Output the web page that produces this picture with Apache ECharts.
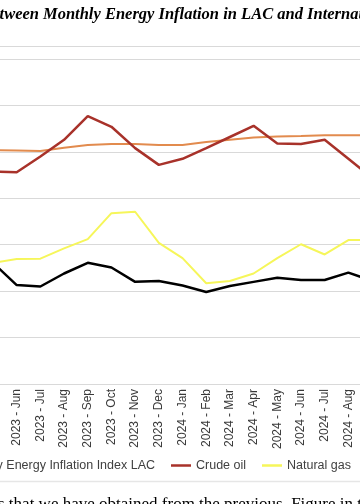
<!DOCTYPE html>
<html>
<head>
<meta charset="utf-8">
<script src="https://cdn.jsdelivr.net/npm/echarts@6/dist/echarts.min.js"></script>
<style>
html,body{margin:0;padding:0;background:#fff;}
#chart{width:360px;height:504px;}
</style>
</head>
<body>
<div id="chart"></div>
<script>
// Categories (the visible window is Jun 2023 – Aug 2024; May and Sep lie just outside the crop)
const categories = ['2023 - May','2023 - Jun','2023 - Jul','2023 - Aug','2023 - Sep','2023 - Oct','2023 - Nov','2023 - Dec',
  '2024 - Jan','2024 - Feb','2024 - Mar','2024 - Apr','2024 - May','2024 - Jun','2024 - Jul','2024 - Aug','2024 - Sep'];

const energyLAC = [26.1,21.3,21.0,23.8,26.1,25.1,22.0,22.2,21.2,19.8,21.1,22.0,22.9,22.4,22.4,24.0,22.2];
const crudeOil  = [45.8,45.6,49.0,52.6,57.7,55.4,50.8,47.2,48.5,50.8,53.2,55.6,51.8,51.7,52.6,48.5,44.4];
const naturalGas= [26.1,26.9,27.0,29.2,31.2,36.8,37.1,30.4,27.1,21.7,22.2,23.8,27.1,30.1,27.9,31.0,31.0];
const trendLine = [50.4,50.3,50.2,50.9,51.5,51.7,51.7,51.5,51.5,52.1,52.6,53.1,53.3,53.4,53.6,53.6,53.6];

const yMin = 0, yMax = 70, yInterval = 10;

const chart = echarts.init(document.getElementById('chart'), null, {renderer:'canvas'});
const grid = '#D9D9D9';
const legendText = {fontFamily:'Liberation Sans', fontSize:12.5, color:'#404040'};
const lg = {top:459, padding:0, icon:'rect', itemWidth:20, itemHeight:2.5, textStyle:legendText};

chart.setOption({
  animation:false,
  backgroundColor:'#fff',
  grid:{left:-7, right:-12.05, top:59, bottom:120, containLabel:false, outerBoundsMode:'none'},
  xAxis:{
    type:'category', data:categories, boundaryGap:false,
    axisLine:{lineStyle:{color:grid, width:1}},
    axisTick:{show:false},
    axisLabel:{rotate:90, margin:5, interval:0, fontFamily:'Liberation Sans', fontSize:12, color:'#3a3a3a'},
    splitLine:{show:false}
  },
  yAxis:{
    type:'value', min:yMin, max:yMax, interval:yInterval,
    axisLine:{show:false}, axisTick:{show:false}, axisLabel:{show:false},
    splitLine:{lineStyle:{color:grid, width:1}}
  },
  legend:[
    Object.assign({data:['Monthly Energy Inflation Index LAC'], right:205}, lg),
    Object.assign({data:['Crude oil'], left:171}, lg),
    Object.assign({data:['Natural gas'], left:262}, lg),
    Object.assign({data:['Trend'], left:372}, lg)
  ],
  series:[
    {name:'Trend', type:'line', data:trendLine, symbol:'none', lineStyle:{color:'#E28B4E', width:2}, itemStyle:{color:'#E28B4E'}},
    {name:'Natural gas', type:'line', data:naturalGas, symbol:'none', lineStyle:{color:'#F6F65A', width:2}, itemStyle:{color:'#F6F65A'}},
    {name:'Crude oil', type:'line', data:crudeOil, symbol:'none', lineStyle:{color:'#A8322A', width:2.5}, itemStyle:{color:'#A8322A'}},
    {name:'Monthly Energy Inflation Index LAC', type:'line', data:energyLAC, symbol:'none', lineStyle:{color:'#000', width:2.5}, itemStyle:{color:'#000'}}
  ],
  graphic:[
    {type:'text', x:39, y:15, style:{text:'Correlation between', align:'right', verticalAlign:'middle', font:'italic bold 16.5px "Liberation Serif"', fill:'#000'}},
    {type:'text', x:43, y:15, style:{text:'Monthly Energy Inflation in LAC and International Prices', align:'left', verticalAlign:'middle', font:'italic bold 16.5px "Liberation Serif"', fill:'#000'}},
    {type:'line', shape:{x1:0, y1:46.5, x2:360, y2:46.5}, style:{stroke:grid, lineWidth:1}},
    {type:'line', shape:{x1:0, y1:481.5, x2:360, y2:481.5}, style:{stroke:'#E6E6E6', lineWidth:1.5}},
    {type:'text', x:-2, y:496, style:{text:'s that we have obtained from the previous. Figure in the', align:'left', verticalAlign:'top', font:'17px "Liberation Serif"', fill:'#000'}}
  ]
});
</script>
</body>
</html>
